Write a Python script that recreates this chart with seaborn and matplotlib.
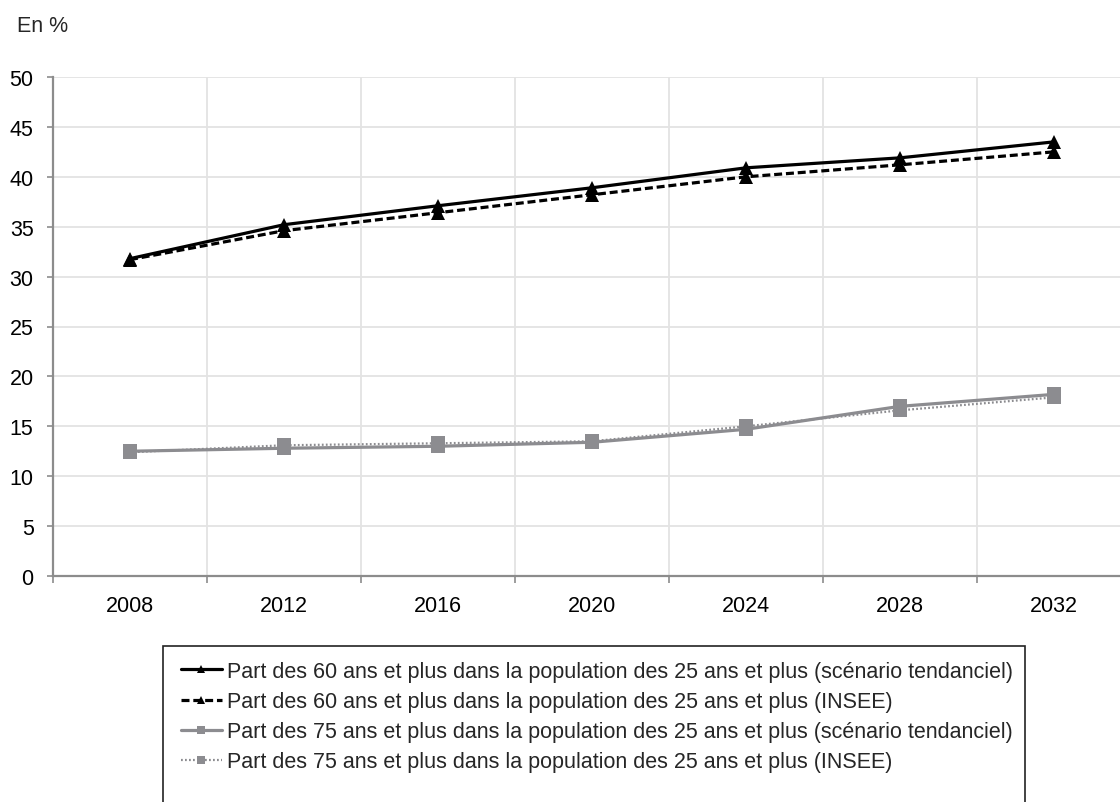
import matplotlib
matplotlib.use("Agg")
import matplotlib.pyplot as plt
from matplotlib.patches import Rectangle
import seaborn as sns

years = [2008, 2012, 2016, 2020, 2024, 2028, 2032]
p60_tendanciel = [31.8, 35.2, 37.1, 38.9, 40.9, 41.9, 43.5]
p60_insee = [31.7, 34.6, 36.4, 38.2, 40.0, 41.2, 42.5]
p75_tendanciel = [12.5, 12.8, 13.0, 13.4, 14.7, 17.0, 18.2]
p75_insee = [12.4, 13.1, 13.3, 13.5, 15.0, 16.6, 17.9]

labels = [
    "Part des 60 ans et plus dans la population des 25 ans et plus (scénario tendanciel)",
    "Part des 60 ans et plus dans la population des 25 ans et plus (INSEE)",
    "Part des 75 ans et plus dans la population des 25 ans et plus (scénario tendanciel)",
    "Part des 75 ans et plus dans la population des 25 ans et plus (INSEE)",
]
y_ticks = [0, 5, 10, 15, 20, 25, 30, 35, 40, 45, 50]

FS = 15.5

sns.set_theme(style="white")
plt.rcParams["font.family"] = ["Liberation Sans", "DejaVu Sans"]
plt.rcParams["font.size"] = FS

W, H = 1120, 803
fig = plt.figure(figsize=(W / 100, H / 100), dpi=100)
# plot area runs past the right edge of the figure
left, right, top, bottom = 53, 1131, 78, 577
ax = fig.add_axes([left / W, 1 - bottom / H, (right - left) / W, (bottom - top) / H])

black = "#000000"
gray = "#8c8c90"

sns.lineplot(x=years, y=p60_tendanciel, ax=ax, color=black, linewidth=2.3,
             marker="^", markersize=10, markeredgewidth=0, label=labels[0])
sns.lineplot(x=years, y=p60_insee, ax=ax, color=black, linewidth=2.3,
             linestyle=(0, (2.5, 1.2)), marker="^", markersize=10,
             markeredgewidth=0, label=labels[1])
sns.lineplot(x=years, y=p75_tendanciel, ax=ax, color=gray, linewidth=2.3,
             marker="s", markersize=9.5, markeredgewidth=0, label=labels[2])
sns.lineplot(x=years, y=p75_insee, ax=ax, color=gray, linewidth=1.6,
             linestyle=(0, (0.8, 1.0)), marker="s", markersize=9.5,
             markeredgewidth=0, label=labels[3])

ax.set_xlim(2006, 2034)
ax.set_ylim(0, 50)
ax.set_yticks(y_ticks)
ax.set_xticks(years)
ax.set_xticks([2006 + 4 * i for i in range(8)], minor=True)

ax.grid(False)
for yv in y_ticks[1:]:
    ax.axhline(yv, color="#e3e3e3", linewidth=1.3, zorder=0)
for xv in [2010 + 4 * i for i in range(6)]:
    ax.axvline(xv, color="#e3e3e3", linewidth=1.3, zorder=0)

for side in ["top", "right"]:
    ax.spines[side].set_visible(False)
for side in ["left", "bottom"]:
    ax.spines[side].set_color("#8c8c8c")
    ax.spines[side].set_linewidth(1.6)

ax.tick_params(axis="y", which="major", direction="out", length=4, width=1.2,
               color="#8c8c8c", pad=10, labelsize=FS, labelcolor="black", left=True)
ax.tick_params(axis="x", which="major", length=0, pad=14, labelsize=FS,
               labelcolor="black")
ax.tick_params(axis="x", which="minor", direction="out", length=5, width=1.2,
               color="#8c8c8c", bottom=True)
ax.set_xlabel("")
ax.set_ylabel("")

fig.text(17 / W, 1 - 26 / H, "En %", fontsize=FS, va="center", ha="left")

handles, labs = ax.get_legend_handles_labels()
ax.get_legend().remove()
leg = fig.legend(handles, labs, loc="upper left",
                 bbox_to_anchor=(181 / W, 1 - 662 / H), frameon=False,
                 fontsize=FS, handlelength=1.9, handletextpad=0.25,
                 labelspacing=0.42, borderpad=0, borderaxespad=0,
                 markerscale=0.6)

fig.patches.append(Rectangle((163 / W, 1 - 830 / H), (1025 - 163) / W, (830 - 647) / H,
                             transform=fig.transFigure, fill=False,
                             edgecolor="#222222", linewidth=1.2))

fig.savefig("out.png", dpi=100)
